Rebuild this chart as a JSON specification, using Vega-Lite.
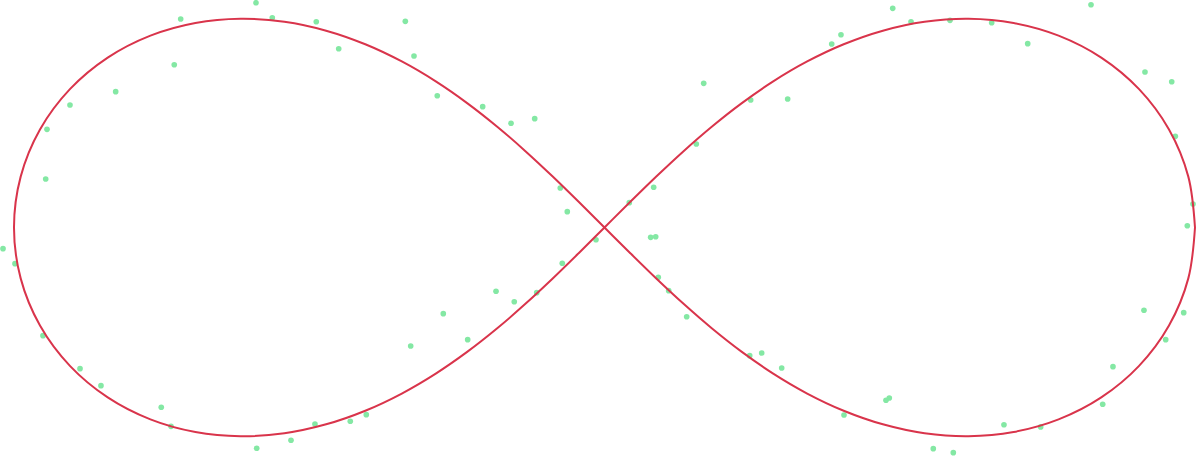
{
  "$schema": "https://vega.github.io/schema/vega-lite/v6.json",
  "autosize": {"type": "none"},
  "width": 1197,
  "height": 456,
  "padding": 0,
  "background": "white",
  "config": {"view": {"stroke": null}},
  "datasets": {
    "curve": [
      {"t": 0, "x": 1, "y": 0},
      {"t": 5, "x": 0.98868, "y": 0.08617},
      {"t": 10, "x": 0.95598, "y": 0.166},
      {"t": 15, "x": 0.90529, "y": 0.2343},
      {"t": 20, "x": 0.84128, "y": 0.28774},
      {"t": 25, "x": 0.76897, "y": 0.32498},
      {"t": 30, "x": 0.69282, "y": 0.34641},
      {"t": 35, "x": 0.61637, "y": 0.35354},
      {"t": 40, "x": 0.54207, "y": 0.34844},
      {"t": 45, "x": 0.4714, "y": 0.33333},
      {"t": 50, "x": 0.40508, "y": 0.31031},
      {"t": 55, "x": 0.34325, "y": 0.28118},
      {"t": 60, "x": 0.28571, "y": 0.24744},
      {"t": 65, "x": 0.23203, "y": 0.21029},
      {"t": 70, "x": 0.18163, "y": 0.17068},
      {"t": 75, "x": 0.1339, "y": 0.12933},
      {"t": 80, "x": 0.08815, "y": 0.08681},
      {"t": 85, "x": 0.04375, "y": 0.04358},
      {"t": 90, "x": 0, "y": 0},
      {"t": 95, "x": -0.04375, "y": -0.04358},
      {"t": 100, "x": -0.08815, "y": -0.08681},
      {"t": 105, "x": -0.1339, "y": -0.12933},
      {"t": 110, "x": -0.18163, "y": -0.17068},
      {"t": 115, "x": -0.23203, "y": -0.21029},
      {"t": 120, "x": -0.28571, "y": -0.24744},
      {"t": 125, "x": -0.34325, "y": -0.28118},
      {"t": 130, "x": -0.40508, "y": -0.31031},
      {"t": 135, "x": -0.4714, "y": -0.33333},
      {"t": 140, "x": -0.54207, "y": -0.34844},
      {"t": 145, "x": -0.61637, "y": -0.35354},
      {"t": 150, "x": -0.69282, "y": -0.34641},
      {"t": 155, "x": -0.76897, "y": -0.32498},
      {"t": 160, "x": -0.84128, "y": -0.28774},
      {"t": 165, "x": -0.90529, "y": -0.2343},
      {"t": 170, "x": -0.95598, "y": -0.166},
      {"t": 175, "x": -0.98868, "y": -0.08617},
      {"t": 180, "x": -1, "y": 0},
      {"t": 185, "x": -0.98868, "y": 0.08617},
      {"t": 190, "x": -0.95598, "y": 0.166},
      {"t": 195, "x": -0.90529, "y": 0.2343},
      {"t": 200, "x": -0.84128, "y": 0.28774},
      {"t": 205, "x": -0.76897, "y": 0.32498},
      {"t": 210, "x": -0.69282, "y": 0.34641},
      {"t": 215, "x": -0.61637, "y": 0.35354},
      {"t": 220, "x": -0.54207, "y": 0.34844},
      {"t": 225, "x": -0.4714, "y": 0.33333},
      {"t": 230, "x": -0.40508, "y": 0.31031},
      {"t": 235, "x": -0.34325, "y": 0.28118},
      {"t": 240, "x": -0.28571, "y": 0.24744},
      {"t": 245, "x": -0.23203, "y": 0.21029},
      {"t": 250, "x": -0.18163, "y": 0.17068},
      {"t": 255, "x": -0.1339, "y": 0.12933},
      {"t": 260, "x": -0.08815, "y": 0.08681},
      {"t": 265, "x": -0.04375, "y": 0.04358},
      {"t": 270, "x": 0, "y": 0},
      {"t": 275, "x": 0.04375, "y": -0.04358},
      {"t": 280, "x": 0.08815, "y": -0.08681},
      {"t": 285, "x": 0.1339, "y": -0.12933},
      {"t": 290, "x": 0.18163, "y": -0.17068},
      {"t": 295, "x": 0.23203, "y": -0.21029},
      {"t": 300, "x": 0.28571, "y": -0.24744},
      {"t": 305, "x": 0.34325, "y": -0.28118},
      {"t": 310, "x": 0.40508, "y": -0.31031},
      {"t": 315, "x": 0.4714, "y": -0.33333},
      {"t": 320, "x": 0.54207, "y": -0.34844},
      {"t": 325, "x": 0.61637, "y": -0.35354},
      {"t": 330, "x": 0.69282, "y": -0.34641},
      {"t": 335, "x": 0.76897, "y": -0.32498},
      {"t": 340, "x": 0.84128, "y": -0.28774},
      {"t": 345, "x": 0.90529, "y": -0.2343},
      {"t": 350, "x": 0.95598, "y": -0.166},
      {"t": 355, "x": 0.98868, "y": -0.08617},
      {"t": 360, "x": 1, "y": 0}
    ],
    "noise": [
      {"x": -0.7177, "y": 0.3531}, {"x": -0.7286, "y": 0.2757}, {"x": -0.8278, "y": 0.2300},
      {"x": -0.9052, "y": 0.2075}, {"x": -0.9441, "y": 0.1663}, {"x": -0.9463, "y": 0.0821},
      {"x": -0.5902, "y": 0.3807}, {"x": -0.5626, "y": 0.3553}, {"x": -0.4881, "y": 0.3485},
      {"x": -0.4501, "y": 0.3028}, {"x": -0.3373, "y": 0.3492}, {"x": -0.3226, "y": 0.2904},
      {"x": -0.2832, "y": 0.2232}, {"x": -0.2063, "y": 0.2046}, {"x": -0.1583, "y": 0.1765},
      {"x": -0.1182, "y": 0.1843}, {"x": -0.0749, "y": 0.0669}, {"x": -0.0630, "y": 0.0268},
      {"x": 0.1680, "y": 0.2442}, {"x": 0.2476, "y": 0.2159}, {"x": 0.3102, "y": 0.2176},
      {"x": 0.1555, "y": 0.1414}, {"x": 0.0833, "y": 0.0681}, {"x": 0.0420, "y": 0.0420},
      {"x": 0.4881, "y": 0.3712}, {"x": 0.5191, "y": 0.3485}, {"x": 0.5851, "y": 0.3509},
      {"x": 0.6557, "y": 0.3468}, {"x": 0.4005, "y": 0.3265}, {"x": 0.3848, "y": 0.3108},
      {"x": 0.8239, "y": 0.3773}, {"x": 0.7167, "y": 0.3113}, {"x": 0.9153, "y": 0.2633},
      {"x": 0.9606, "y": 0.2469}, {"x": 0.9667, "y": 0.1544}, {"x": 0.9966, "y": 0.0398},
      {"x": 0.9870, "y": 0.0030}, {"x": -1.0186, "y": -0.0359}, {"x": -0.9983, "y": -0.0613},
      {"x": -0.9509, "y": -0.1832}, {"x": -0.8882, "y": -0.2391}, {"x": -0.8527, "y": -0.2679},
      {"x": -0.7506, "y": -0.3045}, {"x": -0.7341, "y": -0.3367}, {"x": -0.5890, "y": -0.3739},
      {"x": -0.5309, "y": -0.3604}, {"x": -0.4903, "y": -0.3328}, {"x": -0.4305, "y": -0.3282},
      {"x": -0.4034, "y": -0.3170}, {"x": -0.3282, "y": -0.2007}, {"x": -0.2730, "y": -0.1460},
      {"x": -0.2317, "y": -0.1900}, {"x": -0.1837, "y": -0.1080}, {"x": -0.1528, "y": -0.1257},
      {"x": -0.1148, "y": -0.1104}, {"x": -0.0715, "y": -0.0606}, {"x": -0.0144, "y": -0.0207},
      {"x": 0.0782, "y": -0.0166}, {"x": 0.0867, "y": -0.0156}, {"x": 0.0911, "y": -0.0843},
      {"x": 0.1087, "y": -0.1070}, {"x": 0.1392, "y": -0.1511}, {"x": 0.2459, "y": -0.2171},
      {"x": 0.2662, "y": -0.2125}, {"x": 0.3001, "y": -0.2379}, {"x": 0.4056, "y": -0.3175},
      {"x": 0.4767, "y": -0.2926}, {"x": 0.4823, "y": -0.2887}, {"x": 0.5568, "y": -0.3746},
      {"x": 0.5907, "y": -0.3814}, {"x": 0.9136, "y": -0.1402}, {"x": 0.9809, "y": -0.1443},
      {"x": 0.9504, "y": -0.1900}, {"x": 0.8611, "y": -0.2357}, {"x": 0.8437, "y": -0.2994},
      {"x": 0.7387, "y": -0.3378}, {"x": 0.6765, "y": -0.3340}
    ]
  },
  "layer": [
    {
      "data": {"name": "noise"},
      "mark": {"type": "point", "filled": true, "size": 32, "color": "#84e8a4", "opacity": 1},
      "encoding": {
        "x": {"field": "x", "type": "quantitative", "scale": {"domain": [-1.0237, 1.0034], "nice": false, "zero": false}, "axis": null},
        "y": {"field": "y", "type": "quantitative", "scale": {"domain": [-0.387, 0.3853], "nice": false, "zero": false}, "axis": null}
      }
    },
    {
      "data": {"name": "curve"},
      "mark": {"type": "line", "color": "#d9344b", "strokeWidth": 2, "interpolate": "catmull-rom"},
      "encoding": {
        "x": {"field": "x", "type": "quantitative", "scale": {"domain": [-1.0237, 1.0034], "nice": false, "zero": false}, "axis": null},
        "y": {"field": "y", "type": "quantitative", "scale": {"domain": [-0.387, 0.3853], "nice": false, "zero": false}, "axis": null},
        "order": {"field": "t", "type": "quantitative"}
      }
    }
  ]
}
